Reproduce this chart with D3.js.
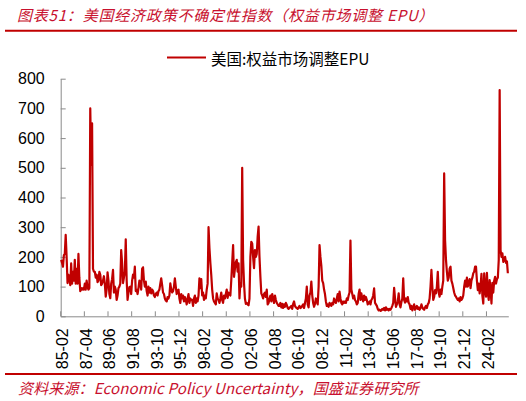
<!DOCTYPE html>
<html><head><meta charset="utf-8">
<script src="https://cdn.jsdelivr.net/npm/d3@7/dist/d3.min.js"></script>
<style>body{margin:0;background:#fff}svg{display:block}</style>
</head><body>
<svg id="c" width="526" height="401"></svg>
<script>
// Monthly Equity-market EPU, 1985-02 ... 2026-01 (each row = Feb..Jan of next year)
const y1985=[190,180,167,206,210,274,200,112,140,130,105,178];
const y1986=[110,150,120,190,110,160,110,210,130,85,95,90];
const y1987=[95,90,110,90,120,100,90,95,700,510,650,160];
const y1988=[150,150,130,140,115,120,150,140,105,110,120,135];
const y1989=[110,66,90,148,120,75,61,110,125,156,80,100];
const y1990=[90,55,70,95,100,110,223,180,112,130,150,259];
const y1991=[122,55,80,98,100,75,120,140,130,167,85,90];
const y1992=[75,95,120,110,90,160,165,120,100,117,85,70];
const y1993=[100,80,95,77,90,85,70,65,75,80,70,85];
const y1994=[90,110,128,105,80,75,60,53,50,65,60,70];
const y1995=[111,90,80,85,100,128,100,75,85,90,60,45];
const y1996=[75,60,70,50,65,55,40,60,75,45,60,55];
const y1997=[55,35,60,70,45,60,50,70,128,95,125,70];
const y1998=[80,55,70,60,90,110,300,230,180,139,90,60];
const y1999=[50,45,40,77,60,55,45,60,80,55,45,70];
const y2000=[60,75,90,62,80,75,70,122,180,240,133,160];
const y2001=[182,190,150,178,60,112,100,500,190,112,60,42];
const y2002=[45,40,37,60,200,251,245,200,162,223,200,210];
const y2003=[268,302,200,133,77,70,60,75,80,65,90,40];
const y2004=[45,60,70,50,75,60,45,70,55,45,40,35];
const y2005=[35,45,30,42,28,40,32,45,38,28,25,30];
const y2006=[30,35,25,42,50,35,30,28,25,30,35,28];
const y2007=[30,35,40,28,45,60,100,40,30,70,80,117];
const y2008=[70,45,32,42,60,50,40,100,240,200,170,120];
const y2009=[112,90,75,50,35,40,32,45,40,35,45,40];
const y2010=[60,50,45,60,75,50,83,60,45,40,50,45];
const y2011=[50,45,60,55,70,80,255,90,75,60,70,55];
const y2012=[50,40,45,75,90,55,77,60,50,70,55,65];
const y2013=[55,40,45,50,40,55,60,70,94,45,40,35];
const y2014=[25,20,22,18,20,25,22,28,20,30,22,25];
const y2015=[20,25,22,28,35,45,96,60,32,40,50,77];
const y2016=[40,30,48,60,128,55,46,60,50,65,45,40];
const y2017=[25,35,20,30,40,22,28,35,25,30,22,28];
const y2018=[40,30,25,22,30,35,28,40,45,60,100,156];
const y2019=[100,55,65,88,77,100,150,80,66,90,75,100];
const y2020=[120,481,257,190,150,120,130,160,167,120,110,95];
const y2021=[80,70,66,60,55,60,50,65,55,60,70,100];
const y2022=[120,100,130,100,113,125,95,120,130,145,150,167];
const y2023=[167,120,88,110,77,100,143,70,43,145,90,66];
const y2024=[146,80,55,122,90,43,113,80,120,133,110,125];
const y2025=[130,190,762,223,200,212,183,189,200,180,185,145];

const values=[].concat(y1985,y1986,y1987,y1988,y1989,y1990,y1991,y1992,y1993,y1994,
  y1995,y1996,y1997,y1998,y1999,y2000,y2001,y2002,y2003,y2004,y2005,y2006,y2007,y2008,
  y2009,y2010,y2011,y2012,y2013,y2014,y2015,y2016,y2017,y2018,y2019,y2020,y2021,y2022,
  y2023,y2024,y2025);
const startYear=1985, startMonth=2;
const categories=values.map((_,i)=>{const m=startMonth-1+i;const yy=startYear+Math.floor(m/12);const mm=m%12+1;
  return String(yy%100).padStart(2,'0')+'-'+String(mm).padStart(2,'0');});
const tickLabels=["85-02","87-04","89-06","91-08","93-10","95-12","98-02","00-04","02-06","04-08",
  "06-10","08-12","11-02","13-04","15-06","17-08","19-10","21-12","24-02"];
const yTicks=[0,100,200,300,400,500,600,700,800];
const seriesName="美国:权益市场调整EPU";
const titleText="图表51：美国经济政策不确定性指数（权益市场调整 EPU）";
const sourceText="资料来源：Economic Policy Uncertainty，国盛证券研究所";

const svg=d3.select("#c");
const red="#c00000", txtRed="#c8102e", gray="#8a8a8a";
const L=60.7,R=508.3,T=78.7,B=316.3;
const x=d3.scaleBand().domain(categories).range([L,R]).padding(0);
const y=d3.scaleLinear().domain([0,800]).range([B,T]);

// title + rules
svg.append("text").attr("x",17).attr("y",14).attr("dominant-baseline","central")
  .attr("font-family","'Noto Sans CJK SC'").attr("font-size",15).attr("font-style","italic")
  .attr("letter-spacing","0.8px").attr("fill",txtRed).text(titleText);
svg.append("line").attr("x1",5).attr("x2",517).attr("y1",30.7).attr("y2",30.7).attr("stroke",red).attr("stroke-width",2);
svg.append("line").attr("x1",5).attr("x2",517).attr("y1",374).attr("y2",374).attr("stroke",red).attr("stroke-width",2);
svg.append("text").attr("x",18).attr("y",387).attr("dominant-baseline","central")
  .attr("font-family","'Noto Sans CJK SC'").attr("font-size",15).attr("font-style","italic")
  .attr("letter-spacing","0.15px").attr("fill",txtRed).text(sourceText);

// legend
svg.append("line").attr("x1",167).attr("x2",206).attr("y1",57.5).attr("y2",57.5).attr("stroke",red).attr("stroke-width",2);
svg.append("text").attr("x",211).attr("y",57.5).attr("dominant-baseline","central")
  .attr("font-family","'Noto Sans CJK SC'").attr("font-size",15.5).attr("fill","#000").text(seriesName);

// axes
const yAxis=svg.append("g").attr("transform",`translate(${L},0)`)
  .call(d3.axisLeft(y).tickValues(yTicks).tickSizeInner(-5).tickSizeOuter(0).tickPadding(16));
const xAxis=svg.append("g").attr("transform",`translate(0,${B})`)
  .call(d3.axisBottom(x).tickValues(tickLabels).tickSizeInner(-5).tickSizeOuter(0));
xAxis.selectAll(".tick").attr("transform",d=>`translate(${x(d)},0)`);
xAxis.selectAll(".tick text").attr("transform","rotate(-90)").attr("text-anchor","end")
  .attr("x",-12).attr("y",0).attr("dy","0.45em");
[xAxis,yAxis].forEach(g=>{
  g.selectAll(".domain,.tick line").attr("stroke",gray).attr("stroke-width",1);
  g.selectAll("text").attr("font-family","'Liberation Sans',Arial").attr("font-size",16).attr("fill","#000");
});

// series
const line=d3.line().x((d,i)=>x(categories[i])+x.bandwidth()/2).y(d=>y(d));
svg.append("path").datum(values).attr("d",line).attr("fill","none")
  .attr("stroke",red).attr("stroke-width",2.2).attr("stroke-linejoin","round");
</script>
</body></html>
